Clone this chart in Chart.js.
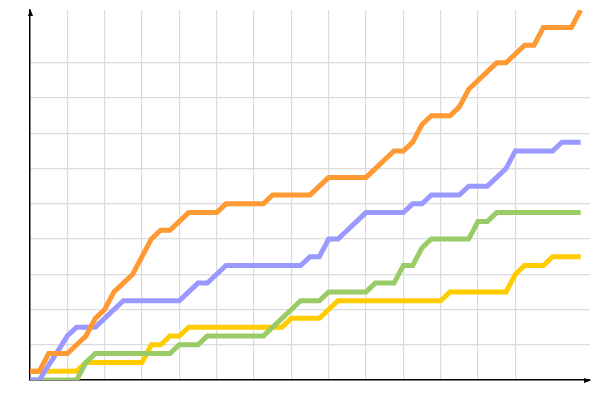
<!DOCTYPE html>
<html>
<head>
<meta charset="utf-8">
<script src="https://cdn.jsdelivr.net/npm/chart.js@4"></script>
<style>
    html, body { margin: 0; padding: 0; background: #fff; }
    #wrap { width: 600px; height: 400px; }
</style>
</head>
<body>
<div id="wrap"><canvas id="chart"></canvas></div>
<script>
// values per step (one value per step, 60 steps)
const orangeValues = [1, 1, 3, 3, 3, 4, 5, 7, 8, 10, 11, 12, 14, 16, 17, 17, 18, 19, 19, 19,
    19, 20, 20, 20, 20, 20, 21, 21, 21, 21, 21, 22, 23, 23, 23, 23, 23, 24, 25, 26,
    26, 27, 29, 30, 30, 30, 31, 33, 34, 35, 36, 36, 37, 38, 38, 40, 40, 40, 40, 42];
const blueValues = [0, 0, 1.7, 3.3, 5, 6, 6, 6, 7, 8, 9, 9, 9, 9, 9, 9, 9, 10, 11, 11,
    12, 13, 13, 13, 13, 13, 13, 13, 13, 13, 14, 14, 16, 16, 17, 18, 19, 19, 19, 19,
    19, 20, 20, 21, 21, 21, 21, 22, 22, 22, 23, 24, 26, 26, 26, 26, 26, 27, 27, 27];
const greenValues = [0, 0, 0, 0, 0, 0, 2, 3, 3, 3, 3, 3, 3, 3, 3, 3, 4, 4, 4, 5,
    5, 5, 5, 5, 5, 5, 6, 7, 8, 9, 9, 9, 10, 10, 10, 10, 10, 11, 11, 11,
    13, 13, 15, 16, 16, 16, 16, 16, 18, 18, 19, 19, 19, 19, 19, 19, 19, 19, 19, 19];
const yellowValues = [1, 1, 1, 1, 1, 1, 2, 2, 2, 2, 2, 2, 2, 4, 4, 5, 5, 6, 6, 6,
    6, 6, 6, 6, 6, 6, 6, 6, 7, 7, 7, 7, 8, 9, 9, 9, 9, 9, 9, 9,
    9, 9, 9, 9, 9, 10, 10, 10, 10, 10, 10, 10, 12, 13, 13, 13, 14, 14, 14, 14];

const xMax = 60;
const yMax = 42;

function toPoints(values) {
    return values.map((v, i) => ({ x: i, y: v }));
}

function makeSeries(values, color) {
    return {
        data: toPoints(values),
        borderColor: color,
        backgroundColor: color,
        borderWidth: 5,
        pointRadius: 0,
        tension: 0,
        fill: false
    };
}

// small arrow heads at the end of both axes
const axisArrows = {
    id: 'axisArrows',
    afterDraw(chart) {
        const { ctx, chartArea } = chart;
        ctx.save();
        ctx.fillStyle = '#000';
        ctx.beginPath();
        ctx.moveTo(chartArea.left + 0.5, chartArea.top - 0.5);
        ctx.lineTo(chartArea.left + 3, chartArea.top + 6);
        ctx.lineTo(chartArea.left - 2, chartArea.top + 6);
        ctx.closePath();
        ctx.fill();
        ctx.beginPath();
        ctx.moveTo(chartArea.right + 1, chartArea.bottom + 0.5);
        ctx.lineTo(chartArea.right - 6, chartArea.bottom - 2);
        ctx.lineTo(chartArea.right - 6, chartArea.bottom + 3);
        ctx.closePath();
        ctx.fill();
        ctx.restore();
    }
};

const hidden = 'rgba(0,0,0,0)';

new Chart(document.getElementById('chart'), {
    type: 'line',
    data: {
        datasets: [
            makeSeries(orangeValues, '#ff9933'),
            makeSeries(blueValues, '#9999ff'),
            makeSeries(greenValues, '#99cc66'),
            makeSeries(yellowValues, '#ffcc00')
        ]
    },
    options: {
        responsive: true,
        maintainAspectRatio: false,
        animation: false,
        layout: { padding: { left: 30, right: 10, top: 10, bottom: 20 } },
        plugins: {
            legend: { display: false },
            tooltip: { enabled: false }
        },
        scales: {
            x: {
                type: 'linear',
                min: 0,
                max: xMax,
                ticks: { display: false, stepSize: 4 },
                grid: {
                    drawTicks: false,
                    lineWidth: 1.2,
                    color: c => (c.tick && c.tick.value > 0 && c.tick.value < 56) ? '#dcdcdc' : hidden
                },
                border: { display: true, color: '#000', width: 1.5 }
            },
            y: {
                min: 0,
                max: yMax,
                ticks: { display: false, stepSize: 4 },
                grid: {
                    drawTicks: false,
                    lineWidth: 1.2,
                    color: c => (c.tick && c.tick.value > 0 && c.tick.value < 40) ? '#dcdcdc' : hidden
                },
                border: { display: true, color: '#000', width: 1.5 }
            }
        }
    },
    plugins: [axisArrows]
});
</script>
</body>
</html>
